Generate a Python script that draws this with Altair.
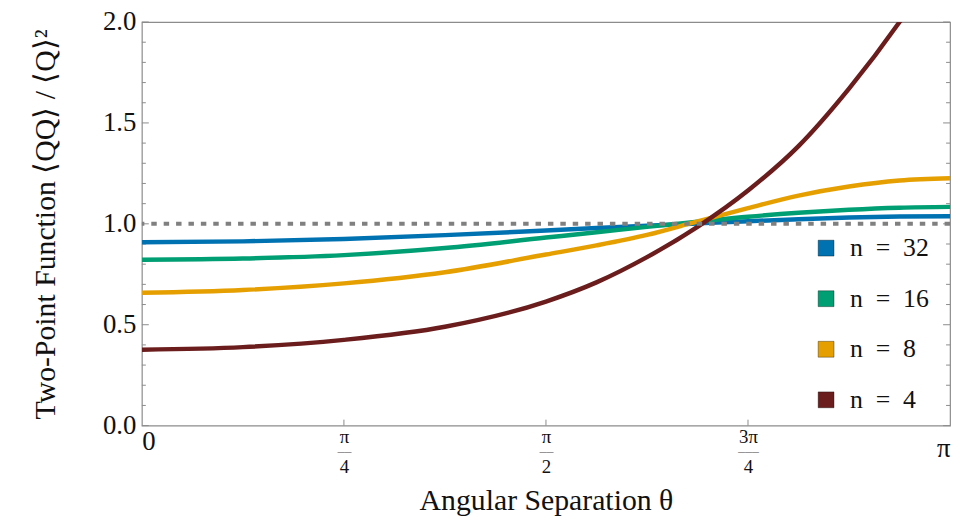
import math
import altair as alt
import pandas as pd

PI = math.pi

# angular separation as a fraction of pi
theta_frac = [0, 0.125, 0.25, 0.375, 0.5, 0.5625, 0.625, 0.6875, 0.75, 0.8125, 0.875, 0.9375, 1.0]
n32 = [0.909, 0.913, 0.925, 0.944, 0.967, 0.979, 0.991, 1.002, 1.013, 1.023, 1.031, 1.036, 1.038]
n16 = [0.822, 0.828, 0.845, 0.880, 0.932, 0.958, 0.985, 1.010, 1.035, 1.055, 1.070, 1.080, 1.084]
n8 = [0.658, 0.672, 0.705, 0.760, 0.848, 0.893, 0.945, 1.012, 1.078, 1.140, 1.185, 1.215, 1.226]
n4 = [0.376, 0.389, 0.425, 0.490, 0.615, 0.710, 0.835, 0.985, 1.165, 1.385, 1.670, 2.000, 2.380]

series_labels = ["n\u2002=\u200232", "n\u2002=\u200216", "n\u2002=\u20028", "n\u2002=\u20024"]
series_values = [n32, n16, n8, n4]
series_colors = ["#0072B2", "#009E73", "#E69F00", "#6B1D1D"]

y_major = [0.0, 0.5, 1.0, 1.5, 2.0]
y_minor = [round(0.1 * i, 1) for i in range(21) if i % 5 != 0]
x_mid_frac = [0.25, 0.5, 0.75]
reference_level = [1.0]

FONT = "Liberation Serif"
GRAY = "#8c8c8c"
W, H = 815, 407

rows = []
for lab, vals in zip(series_labels, series_values):
    for f, v in zip(theta_frac, vals):
        rows.append({"theta": f * PI, "value": v, "n": lab})
df = pd.DataFrame(rows)
ref_df = pd.DataFrame({"level": reference_level})
ymaj_df = pd.DataFrame({"v": y_major})
ymin_df = pd.DataFrame({"v": y_minor})
xmid_df = pd.DataFrame({"t": [f * PI for f in x_mid_frac]})

x_scale = alt.Scale(domain=[0, PI], nice=False, zero=False)
y_scale = alt.Scale(domain=[0, 2], nice=False, zero=False)
color_scale = alt.Scale(domain=series_labels, range=series_colors)

common_x = dict(ticks=False, tickSize=0, domain=False, grid=False, orient="bottom")
mid_values = [f * PI for f in x_mid_frac]

# x axis with the label 0 and the title
x_axis_zero = alt.Axis(
    values=[0.0], labelExpr="'0'", labelFontSize=27, labelPadding=3,
    title="Angular Separation θ", titlePadding=32, **common_x,
)
# x axis with the label pi at the right end
x_axis_pi = alt.Axis(
    values=[PI], labelExpr="'π'", labelFontSize=27, labelPadding=10,
    title=None, **common_x,
)
# fraction labels at pi/4, pi/2, 3pi/4: numerators, bars, denominators
x_axis_num = alt.Axis(
    values=mid_values, labelExpr="datum.value > 2 ? '3π' : 'π'",
    labelFontSize=19, labelPadding=2, title=None, **common_x,
)
x_axis_bar = alt.Axis(
    values=mid_values, labelExpr="datum.value > 2 ? '―――' : '――'",
    labelFontSize=7, labelFontWeight="bold", labelPadding=22, title=None, **common_x,
)
x_axis_den = alt.Axis(
    values=mid_values, labelExpr="datum.value > 1 && datum.value < 2 ? '2' : '4'",
    labelFontSize=19, labelPadding=32, title=None, **common_x,
)

y_axis = alt.Axis(
    values=y_major, format=".1f", orient="left", ticks=False, tickSize=0,
    labelPadding=6, labelFontSize=27, domain=False, grid=False,
    title="Two-Point Function  ⟨QQ⟩ / ⟨Q⟩²", titlePadding=42, titleFontSize=30,
)

lines = alt.Chart(df).mark_line(strokeWidth=4.5, interpolate="monotone", clip=True).encode(
    x=alt.X("theta:Q", scale=x_scale, axis=x_axis_zero),
    y=alt.Y("value:Q", scale=y_scale, axis=y_axis),
    color=alt.Color("n:N", scale=color_scale, legend=None, sort=series_labels),
)

dashed = alt.Chart(ref_df).mark_rule(strokeWidth=4, color="#808080", strokeDash=[5.5, 7]).encode(
    y=alt.Y("level:Q", scale=y_scale, axis=None),
)

# inward tick marks, positioned by the shared scales
def ytick(data, x0, x1):
    return alt.Chart(data).mark_rule(color=GRAY, strokeWidth=1).encode(
        y=alt.Y("v:Q", scale=y_scale, axis=None),
        x=alt.value(x0),
        x2=alt.value(x1),
    )

left_major = ytick(ymaj_df, 0, 7)
left_minor = ytick(ymin_df, 0, 4)
right_major = ytick(ymaj_df, W, W - 7)
right_minor = ytick(ymin_df, W, W - 4)

bottom_ticks = alt.Chart(xmid_df).mark_rule(color=GRAY, strokeWidth=1).encode(
    x=alt.X("t:Q", scale=x_scale, axis=x_axis_num),
    y=alt.value(H),
    y2=alt.value(H - 6),
)

bar_layer = alt.Chart(xmid_df).mark_point(opacity=0).encode(
    x=alt.X("t:Q", scale=x_scale, axis=x_axis_bar),
    y=alt.value(H),
)
den_layer = alt.Chart(xmid_df).mark_point(opacity=0).encode(
    x=alt.X("t:Q", scale=x_scale, axis=x_axis_den),
    y=alt.value(H),
)

legend_layer = alt.Chart(df).transform_filter("false").mark_square(size=256, filled=True, opacity=1).encode(
    x=alt.X("theta:Q", scale=x_scale, axis=x_axis_pi),
    y=alt.Y("value:Q", scale=y_scale, axis=None),
    color=alt.Color(
        "n:N",
        scale=color_scale,
        sort=series_labels,
        legend=alt.Legend(
            title=None,
            orient="none",
            legendX=677,
            legendY=215,
            symbolType="square",
            symbolSize=256,
            symbolStrokeColor="rgba(0,0,0,0.35)",
            symbolStrokeWidth=1,
            symbolOpacity=1,
            labelFontSize=26,
            labelFont=FONT,
            labelColor="#111111",
            labelOffset=11,
            rowPadding=25,
            padding=0,
        ),
    ),
)

chart = (
    alt.layer(left_major, left_minor, right_major, right_minor, bottom_ticks, bar_layer,
              den_layer, lines, dashed, legend_layer)
    .resolve_axis(x="independent", y="independent")
    .resolve_legend(color="independent")
    .properties(
        width=W,
        height=H,
        autosize=alt.AutoSizeParams(type="none"),
        padding={"left": 135, "top": 12, "right": 5, "bottom": 90},
    )
    .configure_view(stroke=GRAY, strokeWidth=1.2)
    .configure_axis(
        labelFont=FONT,
        titleFont=FONT,
        labelColor="#111111",
        titleColor="#111111",
        titleFontSize=30,
        titleFontWeight="normal",
    )
)

chart.save("out.html", embed_options={"renderer": "svg", "actions": False})
